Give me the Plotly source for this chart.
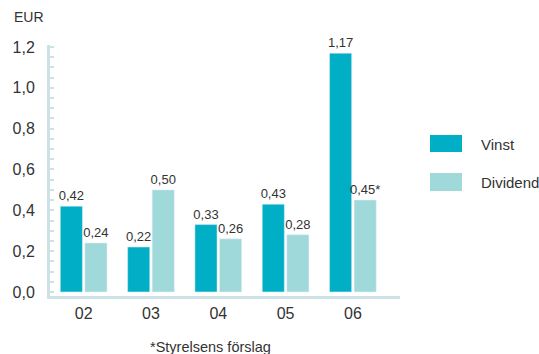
import plotly.graph_objects as go

categories = ["02", "03", "04", "05", "06"]
vinst = [0.42, 0.22, 0.33, 0.43, 1.17]
dividend = [0.24, 0.50, 0.26, 0.28, 0.45]
vinst_labels = ["0,42", "0,22", "0,33", "0,43", "1,17"]
dividend_labels = ["0,24", "0,50", "0,26", "0,28", "0,45*"]
y_ticks = [0, 0.2, 0.4, 0.6, 0.8, 1.0, 1.2]

C_V = "#00aec6"
C_D = "#a0d9da"
AX = "#cde2e6"
TXT = "#333333"
FONT = "Liberation Sans"

fig = go.Figure()
fig.add_bar(x=categories, y=vinst, name="Vinst", marker_color=C_V,
            text=vinst_labels, textposition="outside", cliponaxis=False,
            textfont=dict(size=13, color=TXT, family=FONT))
fig.add_bar(x=categories, y=dividend, name="Dividend", marker_color=C_D,
            text=dividend_labels, textposition="outside", cliponaxis=False,
            textfont=dict(size=13, color=TXT, family=FONT))

fig.update_layout(
    width=539, height=354,
    margin=dict(l=50, r=139, t=45, b=58),
    plot_bgcolor="white", paper_bgcolor="white",
    barmode="group", bargap=0.27, bargroupgap=0.1,
    separators=",.",
    showlegend=False,
    uniformtext=dict(minsize=13, mode="show"),
    font=dict(family=FONT, color=TXT, size=15),
)
fig.update_xaxes(
    type="category", range=[-0.5, 4.7],
    showline=True, linecolor=AX, linewidth=3,
    showgrid=False, ticks="", ticklabelstandoff=1,
    tickfont=dict(size=16, color=TXT),
)
fig.update_yaxes(
    range=[-0.02, 1.21], tickvals=y_ticks, tickformat=".1f",
    showline=True, linecolor=AX, linewidth=3,
    showgrid=False, zeroline=False,
    ticks="inside", ticklen=4, tickwidth=2, tickcolor=AX,
    minor=dict(dtick=0.05, tick0=0, ticks="inside", ticklen=4, tickwidth=2, tickcolor=AX),
    ticklabelstandoff=9,
    tickfont=dict(size=16, color=TXT),
)

def px_x(px):
    return (px - 50) / 350.0

def px_y(py):
    return (296 - py) / 251.0

annotations = [
    dict(text="EUR", x=px_x(12), y=px_y(17), xanchor="left", yanchor="middle",
         font=dict(size=14, color=TXT)),
    dict(text="*Styrelsens förslag", x=px_x(210), y=px_y(347), xanchor="center",
         yanchor="middle", font=dict(size=14.5, color=TXT)),
    dict(text="Vinst", x=px_x(479), y=px_y(144), xanchor="left", yanchor="middle",
         font=dict(size=15, color=TXT)),
    dict(text="Dividend", x=px_x(479), y=px_y(182), xanchor="left", yanchor="middle",
         font=dict(size=15, color=TXT)),
]
for a in annotations:
    a.update(xref="paper", yref="paper", showarrow=False)
fig.update_layout(annotations=annotations)

shapes = [
    dict(type="rect", x0=px_x(430), x1=px_x(462), y0=px_y(152), y1=px_y(135),
         fillcolor=C_V, line=dict(width=0)),
    dict(type="rect", x0=px_x(430), x1=px_x(462), y0=px_y(191), y1=px_y(173),
         fillcolor=C_D, line=dict(width=0)),
]
for s in shapes:
    s.update(xref="paper", yref="paper")
fig.update_layout(shapes=shapes)

fig.write_html("out.html")
